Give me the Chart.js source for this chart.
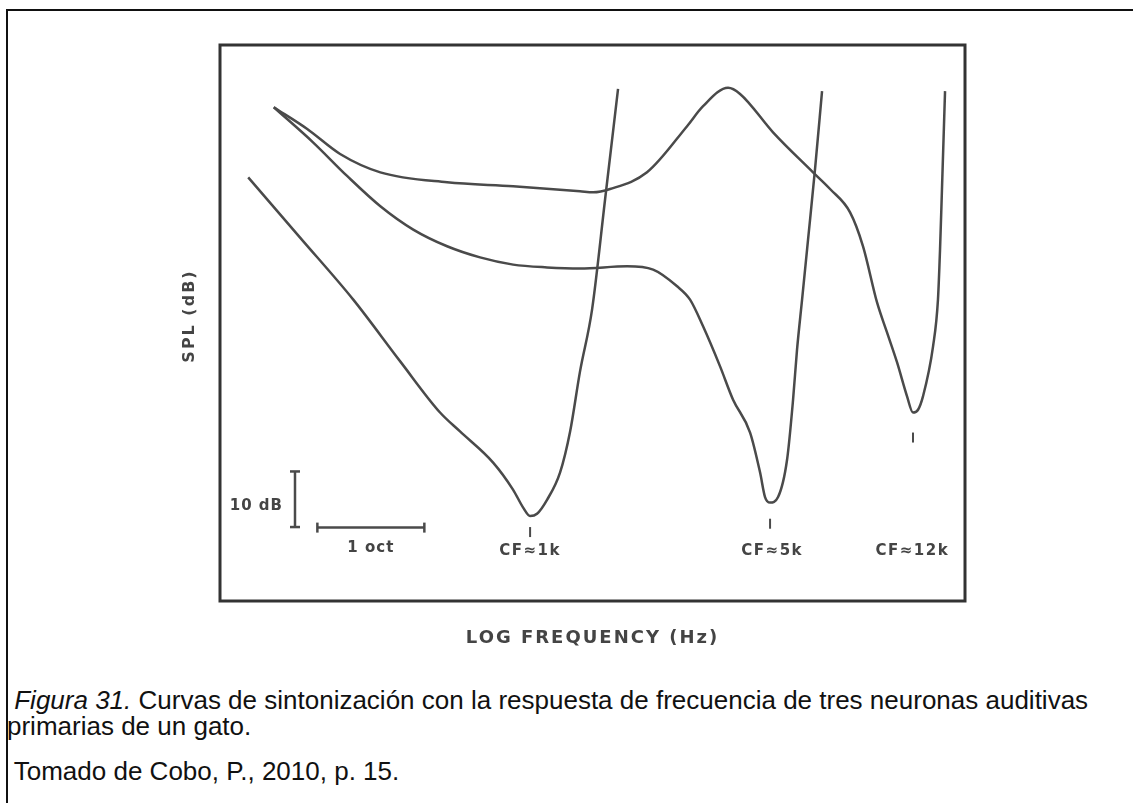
<!DOCTYPE html>
<html>
<head>
<meta charset="utf-8">
<script src="https://cdn.jsdelivr.net/npm/chart.js@4"></script>
<style>
  html, body { margin: 0; padding: 0; background: #fff; }
  body { width: 1133px; height: 803px; position: relative; overflow: hidden; }
  .border { position: absolute; left: 6px; top: 9px; right: -10px; bottom: -10px; border-top: 2px solid #111; border-left: 2px solid #111; }
  #wrap { position: absolute; left: 0; top: 0; width: 1133px; height: 680px; }
  .caption { position: absolute; left: 7px; font-family: "Liberation Sans", Arial, sans-serif; font-size: 26px; line-height: 23px; color: #111; white-space: pre; }
</style>
</head>
<body>
<div class="border"></div>
<div id="wrap"><canvas id="tuningChart"></canvas></div>
<div class="caption" style="top:689px"> <i>Figura 31.</i> Curvas de sintonización con la respuesta de frecuencia de tres neuronas auditivas</div>
<div class="caption" style="top:715px">primarias de un gato.</div>
<div class="caption" style="top:760px"> Tomado de Cobo, P., 2010, p. 15.</div>

<script>
// curves: frequency (Hz) and threshold level (dB, arbitrary zero)
const cf1Freq  = [161, 225, 318, 431, 558, 635, 787, 896, 956, 1000, 1046, 1116, 1214, 1296, 1382, 1494, 1626, 1768];
const cf1Level = [76.2, 65.4, 54.2, 43.1, 33.9, 30.5, 24.9, 20.0, 16.8, 15.3, 15.7, 18.2, 23.1, 30.5, 41.3, 52.4, 72.3, 92.1];

const cf5Freq  = [190, 245, 306, 379, 469, 584, 723, 896, 1116, 1382, 1875, 2219, 2592, 2819, 3067, 3424, 3725, 4159, 4438, 4582, 4734, 4986, 5285, 5495, 5638, 5825, 6055, 6336, 6630];
const cf5Level = [88.8, 82.5, 76.4, 71.0, 66.8, 63.8, 61.8, 60.5, 60.0, 59.8, 60.2, 59.6, 56.6, 54.2, 49.4, 42.2, 36.2, 30.3, 23.1, 18.7, 17.7, 18.7, 25.4, 36.2, 45.2, 54.2, 65.0, 77.7, 91.7];

const cf12Freq  = [190, 236, 292, 379, 584, 896, 1382, 1504, 1679, 2133, 2765, 3067, 3606, 3898, 4826, 6254, 6983, 7950, 8646, 9468, 10100, 10780, 11500, 11950, 12350, 12750, 13610, 14050, 14240, 14420, 14710];
const cf12Level = [88.8, 84.9, 80.4, 77.1, 75.3, 74.6, 73.7, 73.5, 74.1, 77.1, 85.4, 89.0, 92.3, 91.2, 84.3, 77.1, 74.1, 69.9, 63.8, 53.7, 48.3, 42.9, 36.8, 33.9, 34.4, 36.8, 45.8, 54.2, 63.2, 74.1, 91.7];

// scale bars and CF marks
const dbBarFreq = [218, 218];
const dbBarLevel = [13.3, 23.3];
const octBarFreq = [252, 504];
const octBarLevel = [13.2, 13.2];
const cfTickFreq = [1000, 4734, 11950];
const cfTickLevel = [12.4, 13.9, 29.4];
const cfLabels = ['CF≈1k', 'CF≈5k', 'CF≈12k'];
const cfLabelFreq = [1000, 4800, 11900];

const ink = '#4a4a4a';

function pts(xs, ys) {
    return xs.map((x, i) => ({ x: x, y: ys[i] }));
}

function curve(xs, ys) {
    return {
        data: pts(xs, ys),
        borderColor: ink,
        borderWidth: 2.5,
        pointRadius: 0,
        cubicInterpolationMode: 'monotone',
        fill: false
    };
}

// frame, axis titles and the little labels
const decorations = {
    id: 'decorations',
    afterDatasetsDraw(chart) {
        const { ctx, chartArea: a, scales } = chart;
        const x = scales.x, y = scales.y;
        ctx.save();
        ctx.strokeStyle = '#333';
        ctx.lineWidth = 3;
        ctx.strokeRect(a.left, a.top, a.right - a.left, a.bottom - a.top);

        ctx.fillStyle = '#444';
        ctx.textAlign = 'center';
        ctx.textBaseline = 'middle';
        ctx.font = 'bold 15px "DejaVu Sans"';
        ctx.letterSpacing = '1.5px';

        cfLabels.forEach((t, i) => {
            ctx.fillText(t, x.getPixelForValue(cfLabelFreq[i]), a.bottom - 50);
        });

        ctx.letterSpacing = '1px';
        const octMid = Math.sqrt(octBarFreq[0] * octBarFreq[1]);
        ctx.fillText('1 oct', x.getPixelForValue(octMid), y.getPixelForValue(octBarLevel[0]) + 21);

        ctx.textAlign = 'right';
        ctx.fillText('10 dB', x.getPixelForValue(dbBarFreq[0]) - 12, y.getPixelForValue(17.0));

        ctx.textAlign = 'center';
        ctx.font = 'bold 18px "DejaVu Sans"';
        ctx.letterSpacing = '2px';
        ctx.fillText('LOG FREQUENCY (Hz)', (a.left + a.right) / 2, a.bottom + 37);

        ctx.font = 'bold 16px "DejaVu Sans"';
        ctx.translate(a.left - 30, a.top + 271);
        ctx.rotate(-Math.PI / 2);
        ctx.fillText('SPL (dB)', 0, 0);
        ctx.restore();
    }
};

new Chart(document.getElementById('tuningChart'), {
    type: 'line',
    data: {
        datasets: [
            curve(cf1Freq, cf1Level),
            curve(cf5Freq, cf5Level),
            curve(cf12Freq, cf12Level),
            {
                data: pts(dbBarFreq, dbBarLevel),
                borderColor: ink, borderWidth: 2.5,
                pointStyle: 'line', pointRadius: 5, pointRotation: 0,
                pointBorderColor: ink, pointBorderWidth: 2.5
            },
            {
                data: pts(octBarFreq, octBarLevel),
                borderColor: ink, borderWidth: 2.5,
                pointStyle: 'line', pointRadius: 5, pointRotation: 90,
                pointBorderColor: ink, pointBorderWidth: 2.5
            },
            {
                data: pts(cfTickFreq, cfTickLevel),
                showLine: false,
                pointStyle: 'line', pointRadius: 5, pointRotation: 90,
                pointBorderColor: ink, pointBorderWidth: 2
            }
        ]
    },
    options: {
        responsive: true,
        maintainAspectRatio: false,
        animation: false,
        layout: { padding: { left: 220, top: 45, right: 168, bottom: 79 } },
        plugins: {
            legend: { display: false },
            tooltip: { enabled: false }
        },
        scales: {
            x: { type: 'logarithmic', min: 134.1, max: 16740, display: false },
            y: { type: 'linear', min: 0, max: 100, display: false }
        }
    },
    plugins: [decorations]
});
</script>
</body>
</html>
